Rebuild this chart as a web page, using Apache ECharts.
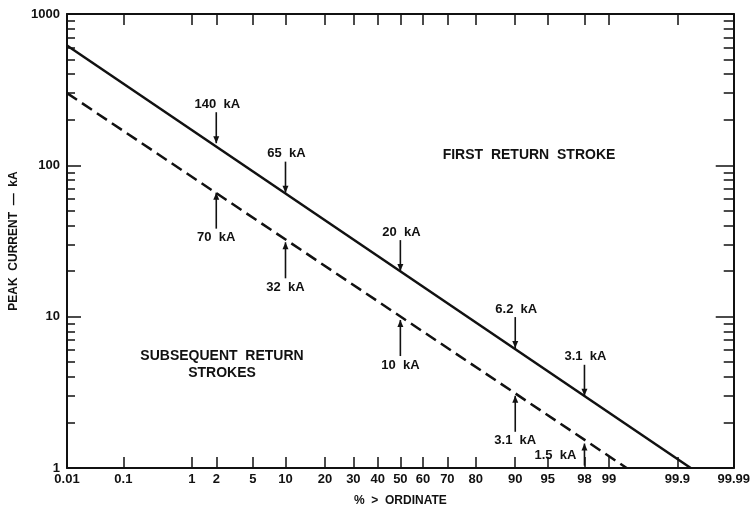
<!DOCTYPE html>
<html>
<head>
<meta charset="utf-8">
<script src="https://cdn.jsdelivr.net/npm/echarts@6/dist/echarts.min.js"></script>
<style>
html,body{margin:0;padding:0;background:#fff;}
#chart{width:753px;height:519px;}
</style>
</head>
<body>
<div id="chart"></div>
<script>
// ---------- data ----------
const xTickPct   = [0.01, 0.1, 1, 2, 5, 10, 20, 30, 40, 50, 60, 70, 80, 90, 95, 98, 99, 99.9, 99.99];
const xTickLabels = ['0.01','0.1','1','2','5','10','20','30','40','50','60','70','80','90','95','98','99','99.9','99.99'];
const yMajorTicks = [1, 10, 100, 1000];
const yTickLabels = ['1', '10', '100', '1000'];
const yMinorTicks = [2,3,4,5,6,7,8,9,20,30,40,50,60,70,80,90,200,300,400,500,600,700,800,900];

// First return stroke (solid line): % > ordinate, peak current kA
const firstPct = [0.01, 99.94];
const firstKA  = [620, 1];
// Subsequent return strokes (dashed line)
const subsPct  = [0.01, 99.42];
const subsKA   = [300, 1];

// Annotated points (arrow tips)
const firstAnnPct  = [2, 10, 50, 90, 98];
const firstAnnKA   = [140, 66, 20, 6.2, 3.0];
const firstAnnText = ['140  kA', '65  kA', '20  kA', '6.2  kA', '3.1  kA'];
const subsAnnPct   = [2, 10, 50, 90, 98];
const subsAnnKA    = [66, 31, 9.5, 3.0, 1.45];
const subsAnnText  = ['70  kA', '32  kA', '10  kA', '3.1  kA', '1.5  kA'];

// ---------- normal probability scale (probit) ----------
function probit(p){
  const a=[-3.969683028665376e+01,2.209460984245205e+02,-2.759285104469687e+02,1.383577518672690e+02,-3.066479806614716e+01,2.506628277459239e+00];
  const b=[-5.447609879822406e+01,1.615858368580409e+02,-1.556989798598866e+02,6.680131188771972e+01,-1.328068155833025e+01];
  const c=[-7.784894002430293e-03,-3.223964580411365e-01,-2.400758277161838e+00,-2.549732539343734e+00,4.374664141464968e+00,2.938163982698783e+00];
  const d=[7.784695709041462e-03,3.224671290700398e-01,2.445134137142996e+00,3.754408661907416e+00];
  const pl=0.02425, ph=1-pl; let q,r;
  if(p<pl){q=Math.sqrt(-2*Math.log(p));return (((((c[0]*q+c[1])*q+c[2])*q+c[3])*q+c[4])*q+c[5])/((((d[0]*q+d[1])*q+d[2])*q+d[3])*q+1);}
  if(p<=ph){q=p-0.5;r=q*q;return (((((a[0]*r+a[1])*r+a[2])*r+a[3])*r+a[4])*r+a[5])*q/(((((b[0]*r+b[1])*r+b[2])*r+b[3])*r+b[4])*r+1);}
  q=Math.sqrt(-2*Math.log(1-p));return -(((((c[0]*q+c[1])*q+c[2])*q+c[3])*q+c[4])*q+c[5])/((((d[0]*q+d[1])*q+d[2])*q+d[3])*q+1);
}
const pz = pct => probit(pct/100);
const xMin = pz(xTickPct[0]);
const xMax = pz(xTickPct[xTickPct.length-1]);
const xTickZ = xTickPct.map(pz);
function xLabelFor(v){
  let best=0, bd=Infinity;
  xTickZ.forEach((z,i)=>{const d=Math.abs(z-v); if(d<bd){bd=d;best=i;}});
  return xTickLabels[best];
}
function yLabelFor(v){
  let best=0, bd=Infinity;
  yMajorTicks.forEach((t,i)=>{const d=Math.abs(Math.log10(t)-Math.log10(v)); if(d<bd){bd=d;best=i;}});
  return yTickLabels[best];
}

const FONT = '"Liberation Sans", Arial, sans-serif';
const INK = '#111';

const firstLine = firstPct.map((p,i)=>[pz(p), firstKA[i]]);
const subsLine  = subsPct.map((p,i)=>[pz(p), subsKA[i]]);

const annData = [];
firstAnnPct.forEach((p,i)=>annData.push({value:[pz(p), firstAnnKA[i]], text:firstAnnText[i], mode:'above'}));
subsAnnPct.forEach((p,i)=>annData.push({value:[pz(p), subsAnnKA[i]], text:subsAnnText[i], mode: i===4 ? 'left' : 'below'}));

function renderAnn(params, api){
  const item = annData[params.dataIndex];
  const tip = api.coord([api.value(0), api.value(1)]);
  const x = tip[0], y = tip[1];
  let y0, y1, tx, ty, up;
  if(item.mode==='above'){ y0 = y-31; y1 = y; tx = x+1; ty = y-39; up=false; }
  else if(item.mode==='below'){ y0 = y+36; y1 = y; tx = x; ty = y+45; up=true; }
  else { y0 = y+22; y1 = y; tx = x-29; ty = y+12; up=true; }
  const ah = 7, aw = 3;
  const head = up
    ? [[x, y1],[x-aw, y1+ah],[x+aw, y1+ah]]
    : [[x, y1],[x-aw, y1-ah],[x+aw, y1-ah]];
  return {
    type:'group',
    children:[
      {type:'line', shape:{x1:x, y1:y0, x2:x, y2:y1}, style:{stroke:INK, lineWidth:1.6}},
      {type:'polygon', shape:{points:head}, style:{fill:INK}},
      {type:'text', x:tx, y:ty, style:{text:item.text, fill:INK, font:'bold 13px '+FONT, align:'center', verticalAlign:'middle'}}
    ]
  };
}

const chart = echarts.init(document.getElementById('chart'), null, {renderer:'canvas'});
const yBase = {type:'log', logBase:10, min:1, max:1000, splitLine:{show:false}};
chart.setOption({
  backgroundColor:'#fff',
  animation:false,
  grid:{left:67, right:15, top:14, bottom:51, containLabel:false},
  xAxis:[
    {type:'value', min:xMin, max:xMax, position:'bottom',
     name:'%  >  ORDINATE', nameLocation:'middle', nameGap:27,
     nameTextStyle:{color:INK, fontFamily:FONT, fontWeight:'bold', fontSize:12},
     axisLine:{onZero:false, lineStyle:{color:INK, width:2}},
     axisTick:{inside:true, length:11, customValues:xTickZ, lineStyle:{color:INK, width:1.5}},
     axisLabel:{customValues:xTickZ, formatter:xLabelFor, margin:5, color:INK, fontFamily:FONT, fontWeight:'bold', fontSize:13},
     splitLine:{show:false}},
    {type:'value', min:xMin, max:xMax, position:'top',
     axisLine:{onZero:false, lineStyle:{color:INK, width:2}},
     axisTick:{inside:true, length:11, customValues:xTickZ, lineStyle:{color:INK, width:1.5}},
     axisLabel:{show:false}, splitLine:{show:false}}
  ],
  yAxis:[
    Object.assign({}, yBase, {position:'left',
     name:'PEAK  CURRENT  —  kA', nameLocation:'middle', nameGap:44,
     nameTextStyle:{color:INK, fontFamily:FONT, fontWeight:'bold', fontSize:12},
     axisLine:{onZero:false, lineStyle:{color:INK, width:2}},
     axisTick:{inside:true, length:14, customValues:yMajorTicks, lineStyle:{color:INK, width:1.5}},
     axisLabel:{customValues:yMajorTicks, formatter:yLabelFor, margin:7, color:INK, fontFamily:FONT, fontWeight:'bold', fontSize:13}}),
    Object.assign({}, yBase, {position:'left',
     axisLine:{show:false, onZero:false},
     axisTick:{inside:true, length:8, customValues:yMinorTicks, lineStyle:{color:INK, width:1.5}},
     axisLabel:{show:false}}),
    Object.assign({}, yBase, {position:'right',
     axisLine:{onZero:false, lineStyle:{color:INK, width:2}},
     axisTick:{inside:true, length:18, customValues:yMajorTicks, lineStyle:{color:INK, width:1.5}},
     axisLabel:{show:false}}),
    Object.assign({}, yBase, {position:'right',
     axisLine:{show:false, onZero:false},
     axisTick:{inside:true, length:10, customValues:yMinorTicks, lineStyle:{color:INK, width:1.5}},
     axisLabel:{show:false}})
  ],
  series:[
    {name:'First return stroke', type:'line', xAxisIndex:0, yAxisIndex:0, data:firstLine,
     showSymbol:false, lineStyle:{color:INK, width:2.5}, clip:true, silent:true},
    {name:'Subsequent return strokes', type:'line', xAxisIndex:0, yAxisIndex:0, data:subsLine,
     showSymbol:false, lineStyle:{color:INK, width:2.5, type:[12,6]}, clip:true, silent:true},
    {name:'annotations', type:'custom', xAxisIndex:0, yAxisIndex:0, data:annData.map(d=>d.value),
     renderItem:renderAnn, clip:false, silent:true, z:5}
  ],
  graphic:[
    {type:'text', x:529, y:155, style:{text:'FIRST  RETURN  STROKE', fill:INK, font:'bold 14px '+FONT, align:'center', verticalAlign:'middle'}},
    {type:'text', x:222, y:365, style:{text:'SUBSEQUENT  RETURN\nSTROKES', fill:INK, font:'bold 14px '+FONT, align:'center', verticalAlign:'middle', lineHeight:17}}
  ]
});
</script>
</body>
</html>
